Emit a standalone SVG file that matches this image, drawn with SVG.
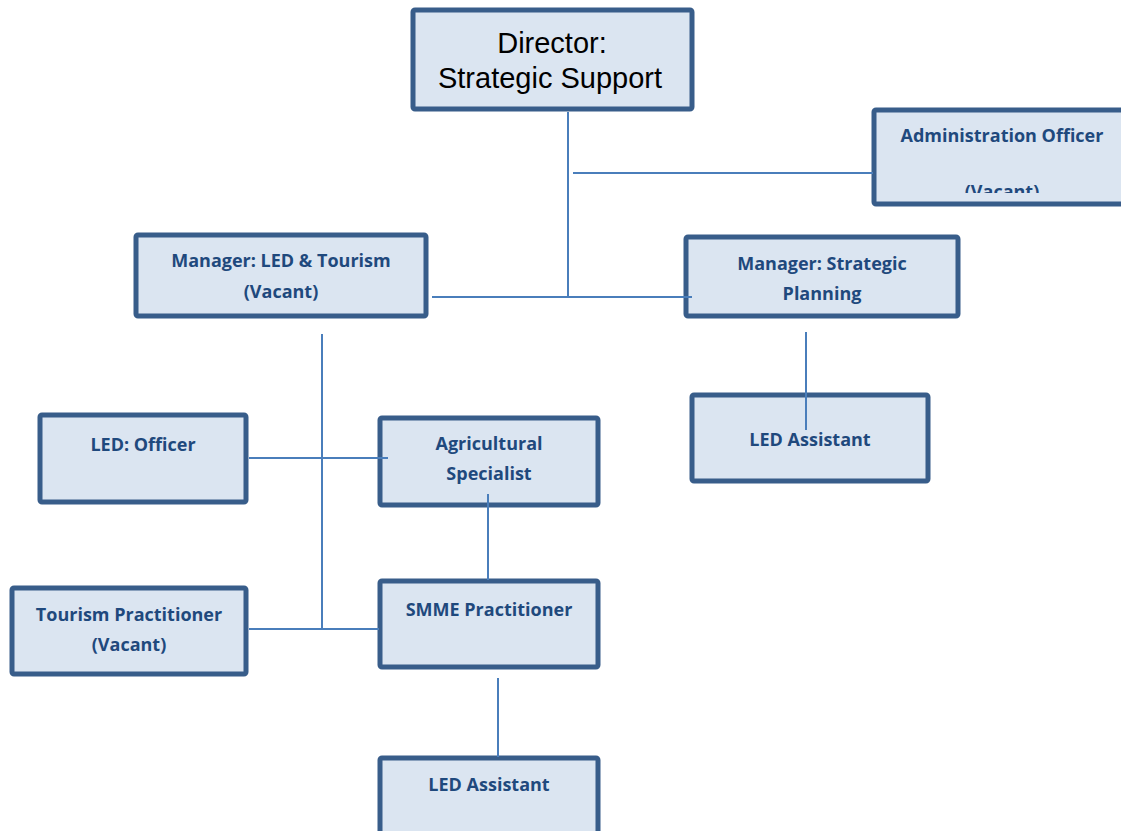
<svg xmlns="http://www.w3.org/2000/svg" width="1121" height="831" viewBox="0 0 1121 831">
<style>
.box{fill:#DBE5F1;stroke:#385D8A;stroke-width:5}
.t{font-family:"Open Sans","Noto Sans","Liberation Sans",sans-serif;font-weight:bold;font-size:18px;fill:#1F497D;text-anchor:middle}
.d{font-family:"Liberation Sans",Arial,sans-serif;font-size:29px;fill:#000;text-anchor:middle}
.c line{stroke:#4A7EBB;stroke-width:2}
</style>
<defs>
<clipPath id="admclip"><rect x="873" y="109" width="260" height="84"/></clipPath>
</defs>
<rect width="1121" height="831" fill="#fff"/>
<g id="director"><rect class="box" x="413" y="10" width="279" height="99" rx="2"/>
<text class="d" x="552" y="53">Director:</text>
<text class="d" x="550" y="88">Strategic Support</text></g>
<g id="admin"><rect class="box" x="874" y="110" width="260" height="94" rx="2"/>
<text class="t" x="1002" y="142">Administration Officer</text>
<text class="t" x="1002" y="198" clip-path="url(#admclip)">(Vacant)</text></g>
<g id="mgr-led"><rect class="box" x="136" y="235" width="290" height="81" rx="2"/>
<text class="t" x="281" y="267">Manager: LED &amp; Tourism</text>
<text class="t" x="281" y="298">(Vacant)</text></g>
<g id="mgr-sp"><rect class="box" x="686" y="237" width="272" height="79" rx="2"/>
<text class="t" x="822" y="270">Manager: Strategic</text>
<text class="t" x="822" y="300">Planning</text></g>
<g id="led-asst-1"><rect class="box" x="692" y="395" width="236" height="86" rx="2"/>
<text class="t" x="810" y="446">LED Assistant</text></g>
<g id="led-officer"><rect class="box" x="40" y="415" width="206" height="87" rx="2"/>
<text class="t" x="143" y="451">LED: Officer</text></g>
<g id="agri"><rect class="box" x="380" y="418" width="218" height="87" rx="2"/>
<text class="t" x="489" y="450">Agricultural</text>
<text class="t" x="489" y="480">Specialist</text></g>
<g id="tourism"><rect class="box" x="12" y="588" width="234" height="86" rx="2"/>
<text class="t" x="129" y="621">Tourism Practitioner</text>
<text class="t" x="129" y="651">(Vacant)</text></g>
<g id="smme"><rect class="box" x="380" y="581" width="218" height="86" rx="2"/>
<text class="t" x="489" y="616">SMME Practitioner</text></g>
<g id="led-asst-2"><rect class="box" x="380" y="758" width="218" height="86" rx="2"/>
<text class="t" x="489" y="791">LED Assistant</text></g>
<g id="connectors" class="c">
<line x1="568" y1="112" x2="568" y2="298"/>
<line x1="573" y1="173" x2="873" y2="173"/>
<line x1="432" y1="297" x2="692" y2="297"/>
<line x1="806" y1="332" x2="806" y2="430"/>
<line x1="322" y1="334" x2="322" y2="630"/>
<line x1="249" y1="458" x2="388" y2="458"/>
<line x1="249" y1="629" x2="379" y2="629"/>
<line x1="488" y1="494" x2="488" y2="580"/>
<line x1="498" y1="678" x2="498" y2="757"/>
</g>
</svg>
